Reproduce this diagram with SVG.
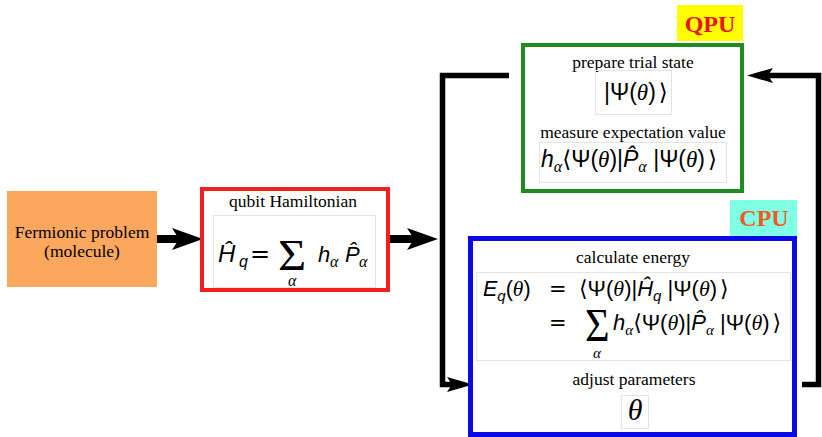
<svg xmlns="http://www.w3.org/2000/svg" width="822" height="437" viewBox="0 0 822 437">
<defs>
<style>
.lbl{font-family:"Liberation Serif","Times New Roman",serif;font-size:17.5px;text-anchor:middle;fill:#000}
.m{font-family:"Liberation Sans","DejaVu Sans",sans-serif;fill:#000}
.it{font-style:italic}
.g{font-family:"Liberation Serif","DejaVu Serif",serif;font-style:italic}
.eq{font-family:"DejaVu Sans",sans-serif}
.br{font-family:"DejaVu Sans",sans-serif}
.sum{font-family:"Liberation Serif","DejaVu Serif",serif}
.img{fill:none;stroke:#e4e4e4;stroke-width:1}
.conn{fill:none;stroke:#000;stroke-linejoin:miter;stroke-linecap:butt}
.tag{font-family:"Liberation Serif","Times New Roman",serif;font-weight:bold;font-size:24px;text-anchor:middle}
</style>
<marker id="big" markerUnits="userSpaceOnUse" viewBox="-10 -13 36 26" markerWidth="36" markerHeight="26" refX="0" refY="0" orient="auto">
<path d="M-7,-11 L24,0 L-7,11 L0,0 Z" fill="#000"/>
</marker>
<marker id="sm" markerUnits="userSpaceOnUse" viewBox="-8 -10 32 20" markerWidth="32" markerHeight="20" refX="0" refY="0" orient="auto">
<path d="M-5,-7.5 L21,0 L-5,7.5 L0,0 Z" fill="#000"/>
</marker>
</defs>
<rect width="822" height="437" fill="#fff"/>

<g id="connectors">
<line class="conn" x1="157" y1="239" x2="179" y2="239" stroke-width="8" marker-end="url(#big)"/>
<line class="conn" x1="390" y1="239" x2="414" y2="239" stroke-width="8" marker-end="url(#big)"/>
<polyline class="conn" points="509,75.5 442.5,75.5 442.5,384.5 452,384.5" stroke-width="5.5" marker-end="url(#sm)"/>
<polyline class="conn" points="802,384.5 818.5,384.5 818.5,75.5 768,75.5" stroke-width="5.5" marker-end="url(#sm)"/>
</g>

<g id="fermionic">
<rect x="7" y="191" width="150" height="96" fill="#fca75e"/>
<text class="lbl" x="82" y="238">Fermionic problem</text>
<text class="lbl" x="82" y="257">(molecule)</text>
</g>

<g id="hamiltonian">
<rect x="202" y="189" width="186" height="101" fill="#fff" stroke="#f51e1e" stroke-width="4"/>
<text class="lbl" x="293" y="207">qubit Hamiltonian</text>
<rect class="img" x="213.5" y="215.5" width="162" height="72"/>
<text class="m it" x="218" y="262" font-size="24">Ĥ</text>
<text class="m it" x="239" y="267" font-size="16">q</text>
<text class="eq" x="250" y="262" font-size="24">=</text>
<text class="sum" x="278" y="270" font-size="44" transform="translate(278 0) scale(1.1 1) translate(-278 0)">Σ</text>
<text class="g" x="288" y="286" font-size="16">α</text>
<text class="m it" x="318" y="262" font-size="22">h</text>
<text class="g" x="330" y="267" font-size="16">α</text>
<text class="m it" x="345" y="262" font-size="22">P̂</text>
<text class="g" x="359" y="267" font-size="16">α</text>
</g>

<g id="qpu">
<rect x="677" y="5" width="66" height="36" fill="#ffff00"/>
<text class="tag" x="710" y="32" fill="#e8141e">QPU</text>
<rect x="523" y="45" width="219" height="146" fill="#fff" stroke="#1e8c1e" stroke-width="4"/>
<text class="lbl" x="633" y="68">prepare trial state</text>
<rect class="img" x="595.5" y="70.5" width="76" height="44"/>
<text class="m" x="604" y="100" font-size="23"><tspan>|Ψ(</tspan><tspan class="g">θ</tspan><tspan>)</tspan><tspan class="br" dx="3">⟩</tspan></text>
<text class="lbl" x="633" y="138">measure expectation value</text>
<rect class="img" x="539.5" y="142.5" width="187" height="40"/>
<text class="m" x="541" y="167" font-size="23"><tspan class="it">h</tspan><tspan class="g" font-size="16" dy="5">α</tspan><tspan class="br" dy="-5">⟨</tspan><tspan>Ψ(</tspan><tspan class="g">θ</tspan><tspan>)|</tspan><tspan class="it">P̂</tspan><tspan class="g" font-size="16" dy="5">α</tspan><tspan dy="-5"> |Ψ(</tspan><tspan class="g">θ</tspan><tspan>)</tspan><tspan class="br" dx="3">⟩</tspan></text>
</g>

<g id="cpu">
<rect x="730" y="200" width="67" height="36" fill="#80ffe4"/>
<text class="tag" x="764" y="226" fill="#f05a1e">CPU</text>
<rect x="470.5" y="238.5" width="324" height="196" fill="#fff" stroke="#0a0ae6" stroke-width="5"/>
<text class="lbl" x="633" y="263">calculate energy</text>
<rect class="img" x="476.5" y="272.5" width="314" height="88"/>
<text class="m" x="483" y="296" font-size="21.5"><tspan class="it">E</tspan><tspan class="it" font-size="15" dy="5">q</tspan><tspan dy="-5">(</tspan><tspan class="g">θ</tspan><tspan>)</tspan></text>
<text class="eq" x="549" y="296" font-size="21">=</text>
<text class="m" x="579" y="296" font-size="22"><tspan class="br">⟨</tspan><tspan>Ψ(</tspan><tspan class="g">θ</tspan><tspan>)|</tspan><tspan class="it">Ĥ</tspan><tspan class="it" font-size="15" dy="5">q</tspan><tspan dy="-5"> |Ψ(</tspan><tspan class="g">θ</tspan><tspan>)</tspan><tspan class="br" dx="3">⟩</tspan></text>
<text class="eq" x="549" y="330" font-size="21">=</text>
<text class="sum" x="585" y="341" font-size="46" transform="translate(585 0) scale(0.92 1) translate(-585 0)">Σ</text>
<text class="g" x="593" y="358" font-size="15">α</text>
<text class="m" x="613" y="330" font-size="22"><tspan class="it">h</tspan><tspan class="g" font-size="15" dy="5">α</tspan><tspan class="br" dy="-5">⟨</tspan><tspan>Ψ(</tspan><tspan class="g">θ</tspan><tspan>)|</tspan><tspan class="it">P̂</tspan><tspan class="g" font-size="15" dy="5">α</tspan><tspan dy="-5"> |Ψ(</tspan><tspan class="g">θ</tspan><tspan>)</tspan><tspan class="br" dx="3">⟩</tspan></text>
<text class="lbl" x="634" y="385">adjust parameters</text>
<rect class="img" x="621.5" y="395.5" width="27" height="33"/>
<text class="g" x="635" y="420" font-size="30" text-anchor="middle">θ</text>
</g>
</svg>
